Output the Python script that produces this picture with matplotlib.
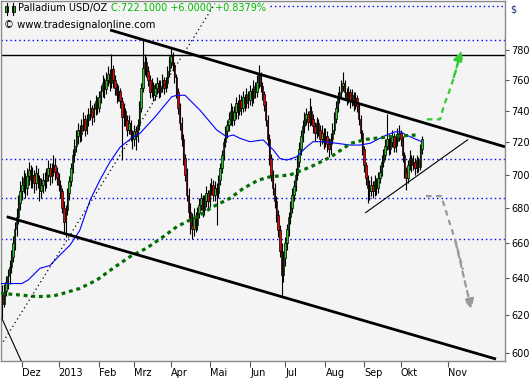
import matplotlib
matplotlib.use('Agg')
import matplotlib.pyplot as plt
import numpy as np
from matplotlib.patches import Rectangle
from matplotlib.ticker import NullLocator

# daily candles, Nov 16 2012 .. Oct 15 2013 (x = trading-day index)
opens = [
    632, 626, 633, 638, 641, 646, 652, 660, 668, 675,
    683, 690, 694, 698, 692, 699, 703, 697, 700, 695,
    701, 698, 690, 694, 697, 696, 700, 704, 699, 703,
    706, 702, 698, 694, 690, 680, 672, 679, 689, 696,
    704, 712, 718, 724, 728, 725, 731, 735, 728, 734,
    738, 742, 736, 741, 746, 742, 749, 753, 758, 754,
    760, 764, 758, 767, 760, 755, 750, 753, 746, 736,
    740, 734, 728, 732, 725, 722, 727, 724, 731, 742,
    755, 768, 772, 766, 760, 752, 757, 750, 755, 758,
    752, 756, 760, 755, 758, 766, 772, 776, 770, 762,
    752, 742, 732, 722, 710, 700, 688, 678, 670, 668,
    675, 670, 677, 682, 686, 679, 684, 689, 684, 691,
    694, 688, 692, 689, 697, 704, 712, 720, 727, 731,
    735, 740, 734, 739, 745, 740, 747, 742, 749, 745,
    751, 747, 753, 748, 756, 752, 759, 763, 756, 751,
    744, 734, 722, 710, 700, 692, 684, 676, 667, 655,
    642, 651, 660, 668, 675, 680, 688, 693, 700, 708,
    716, 724, 730, 735, 738, 733, 740, 735, 730, 726,
    732, 728, 722, 726, 720, 724, 719, 716, 722, 728,
    735, 742, 748, 752, 756, 758, 752, 748, 752, 746,
    750, 744, 748, 743, 735, 726, 716, 706, 698, 692,
    690, 694, 690, 696, 692, 698, 702, 708, 712, 718,
    722, 716, 720, 724, 717, 721, 725, 726, 722, 712,
    702, 698, 706, 710, 706, 708, 704, 709, 705, 716]
highs = [
    636, 637, 641, 645, 650, 656, 664, 672, 680, 688,
    696, 699, 703, 701, 704, 708, 706, 705, 703, 706,
    704, 700, 698, 701, 702, 704, 709, 707, 707, 712,
    710, 705, 701, 697, 692, 684, 682, 692, 699, 707,
    716, 722, 728, 732, 731, 735, 739, 737, 738, 742,
    747, 744, 745, 750, 749, 753, 757, 763, 761, 765,
    769, 767, 777, 770, 763, 758, 757, 755, 749, 745,
    742, 737, 737, 734, 728, 731, 730, 735, 746, 758,
    787, 777, 775, 769, 763, 761, 759, 758, 762, 760,
    760, 764, 762, 762, 769, 776, 782, 779, 772, 764,
    755, 745, 736, 725, 713, 704, 692, 683, 677, 680,
    678, 681, 686, 689, 688, 688, 693, 691, 695, 698,
    697, 696, 695, 700, 707, 715, 723, 730, 734, 739,
    745, 743, 743, 749, 747, 751, 750, 753, 751, 755,
    753, 757, 755, 760, 759, 763, 770, 765, 759, 753,
    746, 737, 725, 713, 703, 695, 687, 679, 670, 660,
    655, 663, 671, 678, 684, 692, 697, 704, 712, 720,
    728, 734, 739, 742, 740, 748, 743, 738, 733, 736,
    735, 731, 731, 729, 729, 727, 723, 726, 732, 739,
    746, 752, 756, 760, 765, 760, 755, 756, 754, 754,
    752, 752, 750, 745, 737, 728, 718, 708, 700, 697,
    699, 696, 700, 698, 702, 706, 712, 716, 722, 738,
    725, 724, 728, 726, 725, 729, 731, 728, 724, 714,
    705, 709, 715, 712, 712, 710, 712, 711, 719, 724]
lows = [
    618, 624, 630, 634, 637, 643, 649, 656, 664, 671,
    679, 685, 689, 686, 688, 694, 692, 692, 689, 691,
    692, 684, 686, 689, 690, 692, 696, 694, 695, 699,
    697, 694, 690, 686, 677, 666, 663, 676, 685, 693,
    701, 708, 714, 719, 720, 721, 727, 724, 725, 730,
    734, 731, 733, 737, 738, 739, 745, 749, 748, 751,
    756, 753, 755, 755, 750, 745, 746, 742, 709, 730,
    730, 724, 725, 721, 716, 718, 715, 720, 728, 739,
    752, 763, 762, 756, 748, 749, 746, 747, 751, 748,
    749, 752, 751, 752, 755, 762, 768, 766, 758, 748,
    738, 728, 718, 706, 696, 684, 674, 665, 662, 664,
    666, 667, 674, 679, 675, 676, 681, 680, 681, 688,
    684, 684, 670, 686, 694, 701, 709, 717, 723, 727,
    731, 730, 731, 735, 735, 737, 737, 739, 740, 742,
    742, 744, 743, 745, 748, 749, 755, 752, 747, 740,
    730, 718, 706, 696, 688, 680, 672, 663, 652, 630,
    638, 647, 656, 664, 671, 677, 684, 690, 697, 705,
    712, 720, 726, 731, 728, 730, 731, 726, 721, 723,
    724, 718, 719, 716, 717, 714, 711, 713, 719, 725,
    732, 739, 745, 749, 753, 748, 744, 745, 742, 743,
    740, 741, 739, 731, 722, 712, 702, 694, 683, 685,
    687, 686, 687, 688, 689, 695, 699, 705, 709, 715,
    712, 713, 717, 714, 714, 718, 721, 718, 708, 698,
    691, 695, 703, 702, 703, 700, 701, 702, 703, 713]
closes = [
    626, 633, 638, 641, 646, 652, 660, 668, 675, 683,
    690, 694, 698, 692, 699, 703, 697, 700, 695, 701,
    698, 690, 694, 697, 696, 700, 704, 699, 703, 706,
    702, 698, 694, 690, 680, 672, 679, 689, 696, 704,
    712, 718, 724, 728, 725, 731, 735, 728, 734, 738,
    742, 736, 741, 746, 742, 749, 753, 758, 754, 760,
    764, 758, 767, 760, 755, 750, 753, 746, 736, 740,
    734, 728, 732, 725, 722, 727, 724, 731, 742, 755,
    768, 772, 766, 760, 752, 757, 750, 755, 758, 752,
    756, 760, 755, 758, 766, 772, 776, 770, 762, 752,
    742, 732, 722, 710, 700, 688, 678, 670, 668, 675,
    670, 677, 682, 686, 679, 684, 689, 684, 691, 694,
    688, 692, 689, 697, 704, 712, 720, 727, 731, 735,
    740, 734, 739, 745, 740, 747, 742, 749, 745, 751,
    747, 753, 748, 756, 752, 759, 763, 756, 751, 744,
    734, 722, 710, 700, 692, 684, 676, 667, 655, 642,
    651, 660, 668, 675, 680, 688, 693, 700, 708, 716,
    724, 730, 735, 738, 733, 740, 735, 730, 726, 732,
    728, 722, 726, 720, 724, 719, 716, 722, 728, 735,
    742, 748, 752, 756, 758, 752, 748, 752, 746, 750,
    744, 748, 743, 735, 726, 716, 706, 698, 692, 690,
    694, 690, 696, 692, 698, 702, 708, 712, 718, 722,
    716, 720, 724, 717, 721, 725, 726, 722, 712, 702,
    698, 706, 710, 706, 708, 704, 709, 705, 716, 722.1]

# moving averages
fast_x = [-1, 11, 14.7, 21.4, 27, 31.8, 38.5, 44, 50, 55.6, 61.3, 67, 74.5, 78.3,
          86.9, 96.4, 99.3, 104, 112.5, 122, 127.7, 131.5, 135.3, 141, 148.6,
          152.4, 154.3, 158, 162, 167.6, 173.3, 177, 182.8, 190.4, 198, 203.7,
          209.4, 215, 218.9, 223.6, 226.5, 232.2, 238.9]
fast_y = [637, 637, 639, 645.5, 647, 652, 658.6, 667, 685, 697, 708, 717, 723.5,
          725.6, 736, 749, 750, 750, 740.4, 727.8, 723.5, 724.6, 722.5, 720.4,
          721.5, 717.2, 715.3, 710, 709, 711, 717.2, 720.4, 720.4, 719.4, 718.3,
          718.3, 719.4, 722.5, 724.6, 726.6, 726.6, 723.5, 720.4]
slow_x = [-1, 10, 19.5, 29, 34.6, 44, 53.7, 63, 72.6, 82, 91.6, 99.3, 112.5, 120,
          129.6, 137.2, 145.8, 152.4, 163.8, 175.7, 187.1, 198.5, 207.5, 217,
          226.5, 236]
slow_y = [631.6, 630.7, 629.8, 630.2, 631.6, 634.3, 638.9, 645.5, 652, 656.8,
          663.4, 669.2, 676, 680.9, 685.9, 691.8, 696.8, 698.8, 699.9, 704.9, 711,
          719.4, 721.9, 723.1, 724, 724.6]

month_pos = [11, 32, 55, 75, 96, 118, 141, 161, 184, 206, 227, 254]
month_lbl = ['Dez', '2013', 'Feb', 'Mrz', 'Apr', 'Mai', 'Jun', 'Jul', 'Aug',
             'Sep', 'Okt', 'Nov']
price_ticks = [600, 620, 640, 660, 680, 700, 720, 740, 760, 780]

dotted_levels = [786.8, 709.6, 686.0, 662.0]
top_level = 810.3
solid_level = 776.6

# trend lines (x0, y0, x1, y1)
upper_line = (61.3, 793.7, 286.3, 717.2)
lower_line = (2.4, 675.0, 281.2, 596.6)
support_line = (206.6, 677.2, 265.3, 721.8)
left_line = (-0.45, 618.2, 12.0, 593.0)
dot_line = (0.46, 605.7, 121.0, 812.0)

up_x = [241.8, 249.3, 251.6, 254.4, 256.7, 259.6, 261.8]
up_y = [734.5, 734.5, 743.7, 752.1, 760.0, 771.3, 781.4]
dn_x = [241.3, 249.9, 251.6, 253.9, 257.8, 262.4, 267.5]
dn_y = [687.2, 687.2, 681.9, 674.2, 661.8, 644.8, 621.5]

W, H = 532, 379
plt.rcParams['font.family'] = 'DejaVu Sans'
fig = plt.figure(figsize=(W / 100, H / 100), dpi=100)
ax = fig.add_axes([1 / W, 1 - 361 / H, 504 / W, 360 / H])
ax.set_facecolor('#f4f4f4')
ax.set_yscale('log')
ax.set_xlim(-0.85, 286.3)
ax.set_ylim(595.6, 813.9)

# horizontal levels
for lv in dotted_levels:
    ax.axhline(lv, color='#0000ff', lw=1.0, ls=(0, (1, 2.2)), zorder=1)
ax.hlines(top_level, (270 - 2.5) / 1.755, 286.3, color='#0000ff', lw=1.0,
          ls=(0, (1, 2.2)), zorder=1)
ax.axhline(solid_level, color='black', lw=1.0, zorder=2)

# candles
x = np.arange(len(closes))
o = np.array(opens, float)
c = np.array(closes, float)
cols = np.where(c >= o, '#22cc22', '#ee0000')
ax.vlines(x, lows, highs, color='black', lw=0.8, zorder=3)
ax.bar(x, np.abs(c - o), bottom=np.minimum(o, c), width=0.8, color=cols,
       edgecolor='black', linewidth=0.5, zorder=4)

# averages
ax.plot(fast_x, fast_y, color='#0000ff', lw=0.8, zorder=5)
ax.plot(slow_x, slow_y, color='#006e00', lw=2.3, ls=(0, (1.2, 1.2)), zorder=5)

# trend lines
for (x0, y0, x1, y1), lw, ls in [(upper_line, 2.0, '-'), (lower_line, 2.0, '-'),
                                  (support_line, 0.8, '-'), (left_line, 0.8, '-'),
                                  (dot_line, 0.9, (0, (1, 2.5)))]:
    ax.plot([x0, x1], [y0, y1], color='black', lw=lw, ls=ls, zorder=6,
            solid_capstyle='butt')

# projection arrows
ax.plot(up_x[:-1], up_y[:-1], color='#33cc33', lw=1.6, ls=(0, (2.5, 2)), zorder=6)
ax.annotate('', xy=(up_x[-1], up_y[-1]), xytext=(up_x[-3], up_y[-3]),
            arrowprops=dict(arrowstyle='-|>,head_width=0.3,head_length=0.6',
                            color='#33cc33', lw=1.6, ls=(0, (2.5, 2))), zorder=6)
ax.plot(dn_x[:-1], dn_y[:-1], color='#999999', lw=1.6, ls=(0, (2.5, 2)), zorder=6)
ax.annotate('', xy=(dn_x[-1], dn_y[-1]), xytext=(dn_x[-3], dn_y[-3]),
            arrowprops=dict(arrowstyle='-|>,head_width=0.3,head_length=0.6',
                            color='#999999', lw=1.6, ls=(0, (2.5, 2))), zorder=6)

# axes styling
for s in ax.spines.values():
    s.set_color('#8a8a8a')
    s.set_linewidth(1.0)
ax.yaxis.tick_right()
ax.set_yticks(price_ticks)
ax.set_yticklabels([str(p) for p in price_ticks])
ax.yaxis.set_minor_locator(NullLocator())
ax.tick_params(axis='y', which='both', direction='out', length=3, width=0.8,
               color='#555555', labelsize=7, pad=1.5)
ax.set_xticks(month_pos)
ax.set_xticklabels(month_lbl, ha='left')
ax.tick_params(axis='x', direction='out', length=4, width=0.8, color='#555555',
               labelsize=7, pad=1)

# header
t1 = fig.text(18 / W, 1 - 8 / H, 'Palladium USD/OZ', fontsize=7.0, va='center',
              ha='left')
fig.canvas.draw()
bb = t1.get_window_extent()
fig.text((bb.x1 + 4) / W, 1 - 8 / H, 'C:722.1000 +6.0000 +0.8379%', fontsize=7.0,
         va='center', ha='left', color='#00bb00')
fig.text(4 / W, 1 - 25 / H, '\u00a9 www.tradesignalonline.com', fontsize=7.2,
         va='center', ha='left')
fig.text(510 / W, 1 - 9 / H, '$', fontsize=7, va='center', ha='left', color='#203070')

# little candle icon
for (bx, wx) in [(5, 6.5), (11.5, 13)]:
    fig.add_artist(plt.Line2D([wx / W, wx / W], [1 - 3 / H, 1 - 15 / H],
                              color='black', lw=0.8))
    fig.add_artist(Rectangle((bx / W, 1 - 12 / H), 3 / W, 6 / H, facecolor='#22cc22',
                             edgecolor='black', lw=0.6))

fig.savefig('out.png', dpi=100)
